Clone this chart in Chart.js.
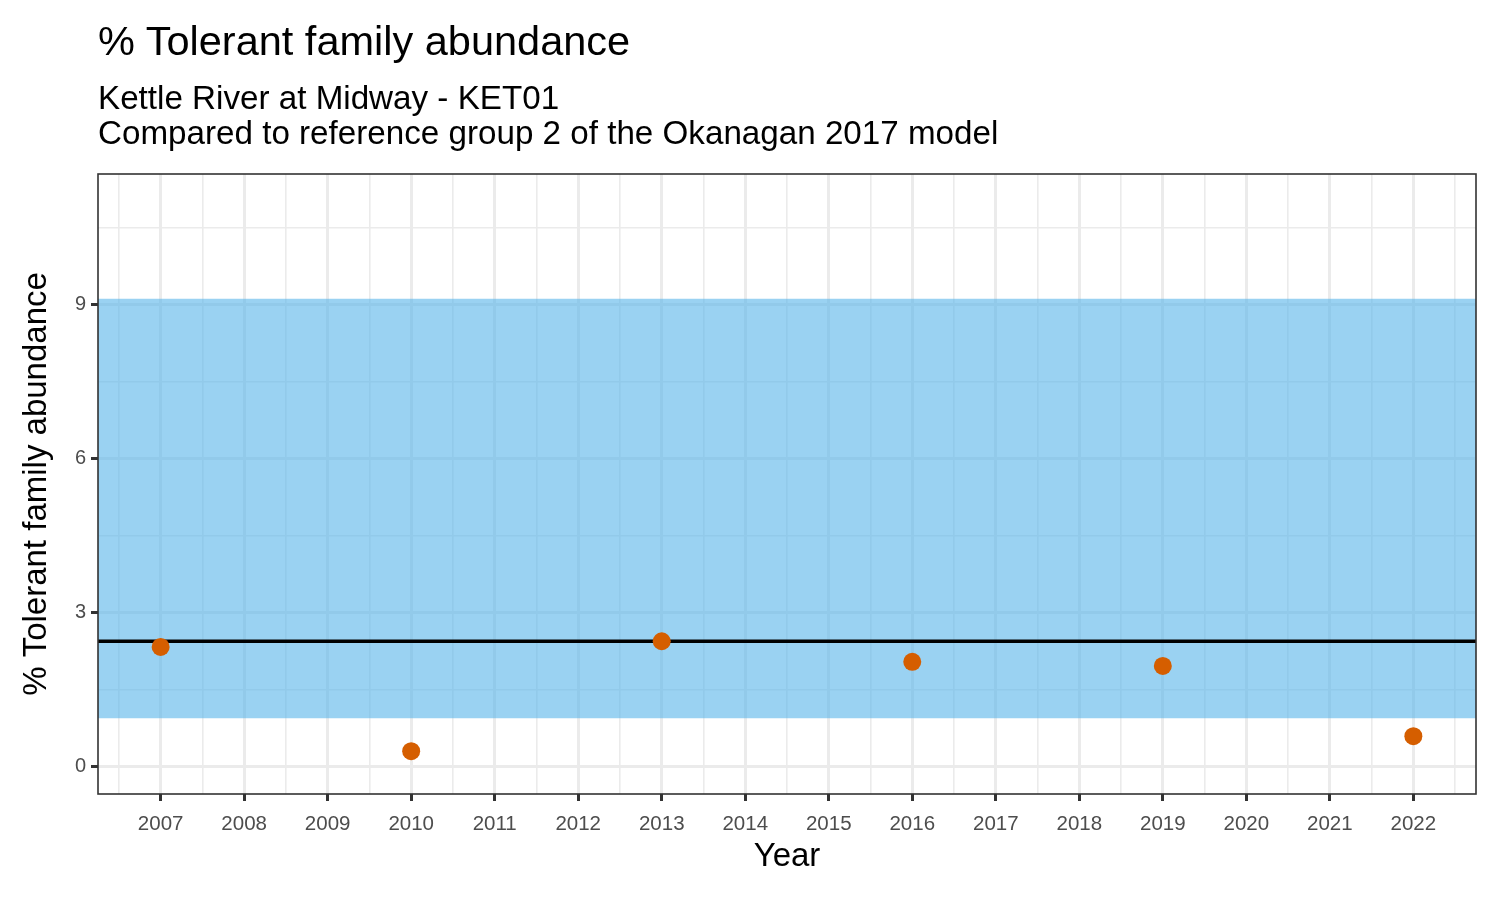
<!DOCTYPE html>
<html>
<head>
<meta charset="utf-8">
<script src="https://cdn.jsdelivr.net/npm/chart.js@4.4.1/dist/chart.umd.min.js"></script>
<style>
  html, body { margin: 0; padding: 0; background: #fff; }
  #wrap { position: relative; width: 1500px; height: 900px; }
  #c { position: absolute; left: 0; top: 0; }
  .t { position: absolute; left: 98px; font-family: "Liberation Sans", Arial, sans-serif; color: #000; white-space: nowrap; }
  #title { top: 20px; font-size: 41.5px; line-height: 41px; }
  #sub { top: 80px; font-size: 33.2px; line-height: 35px; }
</style>
</head>
<body>
<div id="wrap">
  <canvas id="c" width="1500" height="900"></canvas>
  <div class="t" id="title">% Tolerant family abundance</div>
  <div class="t" id="sub">Kettle River at Midway - KET01<br>Compared to reference group 2 of the Okanagan 2017 model</div>
</div>
<script>
// ---- data ----
const years = [2007, 2010, 2013, 2016, 2019, 2022];
const values = [2.33, 0.30, 2.44, 2.04, 1.96, 0.59];
const referenceMedian = 2.44;
const bandLow = 0.94;
const bandHigh = 9.11;
const xTickYears = [2007, 2008, 2009, 2010, 2011, 2012, 2013, 2014, 2015, 2016, 2017, 2018, 2019, 2020, 2021, 2022];
const yTickValues = [0, 3, 6, 9];
const X_MIN = 2006.25, X_MAX = 2022.75;
const Y_MIN = -0.535, Y_MAX = 11.54;

const FONT = '"Liberation Sans", Arial, sans-serif';

function withMinor(major, step, lo, hi) {
  const out = [];
  for (let i = 0; i < major.length; i++) {
    if (i === 0) out.push(major[i] - step / 2);
    out.push(major[i]);
    out.push(major[i] + step / 2);
  }
  return out.filter(v => v >= lo && v <= hi);
}
const xTicksAll = withMinor(xTickYears, 1, X_MIN, X_MAX);
const yTicksAll = withMinor(yTickValues, 3, Y_MIN, Y_MAX);

const isMajorX = v => xTickYears.some(t => Math.abs(t - v) < 1e-6);
const isMajorY = v => yTickValues.some(t => Math.abs(t - v) < 1e-6);

const borderPlugin = {
  id: 'panelBorder',
  afterDraw(chart) {
    const a = chart.chartArea, ctx = chart.ctx;
    ctx.save();
    ctx.strokeStyle = '#333333';
    ctx.lineWidth = 1.6;
    ctx.strokeRect(a.left, a.top, a.right - a.left, a.bottom - a.top);
    ctx.restore();
  }
};

new Chart(document.getElementById('c'), {
  data: {
    datasets: [
      {
        type: 'scatter',
        data: years.map((y, i) => ({ x: y, y: values[i] })),
        backgroundColor: '#D55E00',
        borderWidth: 0,
        pointRadius: 9,
        pointHoverRadius: 9,
        order: 0
      },
      {
        type: 'line',
        data: [{ x: X_MIN, y: referenceMedian }, { x: X_MAX, y: referenceMedian }],
        borderColor: '#000000',
        borderWidth: 3.6,
        pointRadius: 0,
        fill: false,
        order: 1
      },
      {
        type: 'line',
        data: [{ x: X_MIN, y: bandHigh }, { x: X_MAX, y: bandHigh }],
        borderWidth: 0,
        borderColor: 'rgba(0,0,0,0)',
        backgroundColor: 'rgba(86,180,233,0.6)',
        pointRadius: 0,
        fill: { value: bandLow },
        order: 2
      }
    ]
  },
  options: {
    responsive: false,
    animation: false,
    events: [],
    layout: { padding: { top: 174, right: 24, left: 0, bottom: 0 } },
    plugins: { legend: { display: false }, tooltip: { enabled: false }, title: { display: false } },
    scales: {
      x: {
        type: 'linear',
        min: X_MIN, max: X_MAX,
        afterBuildTicks: s => { s.ticks = xTicksAll.map(v => ({ value: v })); },
        afterFit: s => { s.height = 106; },
        ticks: {
          autoSkip: false, maxRotation: 0, minRotation: 0,
          color: '#4D4D4D', font: { family: FONT, size: 20.5 }, padding: 11,
          callback: v => isMajorX(v) ? String(Math.round(v)) : ''
        },
        grid: {
          color: '#EBEBEB',
          lineWidth: c => isMajorX(c.tick.value) ? 3 : 1.6,
          drawTicks: true,
          tickLength: 7,
          tickColor: c => isMajorX(c.tick.value) ? '#333333' : 'rgba(0,0,0,0)',
          tickWidth: 3
        },
        border: { display: false },
        title: { display: true, text: 'Year', color: '#000', font: { family: FONT, size: 33 }, padding: { top: 0, bottom: 23 } }
      },
      y: {
        type: 'linear',
        min: Y_MIN, max: Y_MAX,
        afterBuildTicks: s => { s.ticks = yTicksAll.map(v => ({ value: v })); },
        afterFit: s => { s.width = 98; },
        ticks: {
          autoSkip: false,
          color: '#4D4D4D', font: { family: FONT, size: 20 }, padding: 5,
          callback: v => isMajorY(v) ? String(Math.round(v)) : ''
        },
        grid: {
          color: '#EBEBEB',
          lineWidth: c => isMajorY(c.tick.value) ? 3 : 1.6,
          drawTicks: true,
          tickLength: 7,
          tickColor: c => isMajorY(c.tick.value) ? '#333333' : 'rgba(0,0,0,0)',
          tickWidth: 3
        },
        border: { display: false },
        title: { display: true, text: '% Tolerant family abundance', color: '#000', font: { family: FONT, size: 33 }, padding: { top: 17, bottom: 0 } }
      }
    }
  },
  plugins: [borderPlugin]
});
</script>
</body>
</html>
